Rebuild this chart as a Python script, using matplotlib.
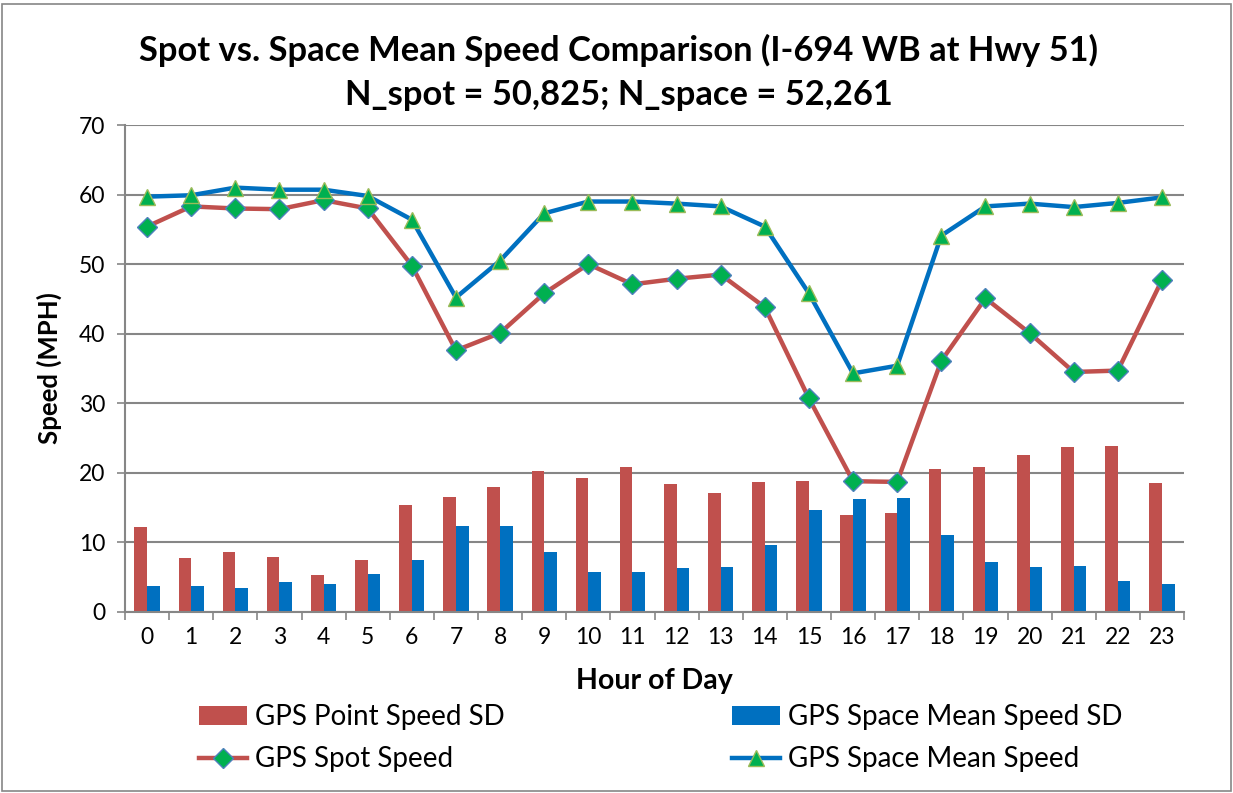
import matplotlib
matplotlib.use("Agg")
import matplotlib.pyplot as plt
import numpy as np
from matplotlib.patches import Rectangle

plt.rcParams['font.family'] = ['Lato', 'DejaVu Sans']

hours = list(range(24))
point_sd = [12.2, 7.7, 8.6, 7.9, 5.3, 7.5, 15.4, 16.5, 17.9, 20.2, 19.2, 20.9,
            18.4, 17.1, 18.7, 18.9, 14.0, 14.2, 20.5, 20.8, 22.5, 23.7, 23.8, 18.6]
space_sd = [3.8, 3.8, 3.5, 4.3, 4.0, 5.4, 7.5, 12.3, 12.4, 8.6, 5.7, 5.8,
            6.3, 6.5, 9.6, 14.6, 16.2, 16.4, 11.1, 7.2, 6.5, 6.6, 4.5, 4.0]
spot_speed = [55.4, 58.3, 58.0, 57.9, 59.2, 58.0, 49.8, 37.6, 40.1, 45.8, 50.0, 47.1,
              47.9, 48.5, 43.8, 30.7, 18.8, 18.7, 36.1, 45.1, 40.1, 34.5, 34.7, 47.7]
space_speed = [59.7, 59.9, 61.0, 60.7, 60.7, 59.8, 56.4, 45.2, 50.5, 57.3, 59.0, 59.0,
               58.7, 58.3, 55.4, 45.8, 34.3, 35.4, 54.1, 58.3, 58.7, 58.2, 58.8, 59.6]

red = '#C0504D'
blue = '#0070C0'
green = '#00B050'

fig = plt.figure(figsize=(12.33, 7.93), dpi=100)
ax = fig.add_axes([125/1233, 181/793, (1184-125)/1233, (612-125)/793])

x = np.array(hours)
w = 0.285
ax.bar(x - w/2, point_sd, w, color=red, label='GPS Point Speed SD', zorder=2)
ax.bar(x + w/2, space_sd, w, color=blue, label='GPS Space Mean Speed SD', zorder=2)
ax.plot(x, spot_speed, color=red, lw=3.2, marker='D', ms=10.5, mfc=green,
        mec='#4F81BD', mew=1, label='GPS Spot Speed', zorder=3)
ax.plot(x, space_speed, color=blue, lw=3.2, marker='^', ms=12, mfc=green,
        mec='#9BBB59', mew=1, label='GPS Space Mean Speed', zorder=3)

ax.set_xlim(-0.5, 23.5)
ax.set_ylim(0, 70)
ax.set_yticks(range(0, 71, 10))
ax.set_xticks(hours)
ax.set_xticks(np.arange(-0.5, 24, 1), minor=True)
ax.tick_params(axis='x', which='major', length=0, labelsize=16.5, pad=11)
ax.tick_params(axis='x', which='minor', length=6, color='#868686', width=1.2)
ax.tick_params(axis='y', length=6, color='#868686', width=1.2, labelsize=16.5, pad=8)
ax.yaxis.grid(True, color='#868686', lw=1.5, zorder=0)
ax.set_axisbelow(True)
for s in ['top', 'right']:
    ax.spines[s].set_visible(False)
for s in ['left', 'bottom']:
    ax.spines[s].set_color('#868686')
    ax.spines[s].set_linewidth(1.5)

ax.set_ylabel('Speed (MPH)', fontsize=18.5, fontweight='bold', labelpad=12)
ax.set_xlabel('Hour of Day', fontsize=20.5, fontweight='bold', labelpad=14)
fig.text(0.502, 0.936, 'Spot vs. Space Mean Speed Comparison (I-694 WB at Hwy 51)',
         ha='center', va='center', fontsize=24.8, fontweight='bold')
fig.text(0.502, 0.880, 'N_spot = 50,825; N_space = 52,261',
         ha='center', va='center', fontsize=24.8, fontweight='bold')

handles, labels = ax.get_legend_handles_labels()
h = [handles[2], handles[0], handles[3], handles[1]]
l = [labels[2], labels[0], labels[3], labels[1]]
fig.legend(h, l, ncol=2, loc='center', bbox_to_anchor=(0.536, 0.069),
           frameon=False, fontsize=20, handlelength=1.7, columnspacing=8.2,
           handletextpad=0.3, labelspacing=0.58)

fig.patches.append(Rectangle((0.002, 0.002), 0.996, 0.993, transform=fig.transFigure,
                             fill=False, edgecolor='#868686', lw=1.2))

fig.savefig('out.png', dpi=100)
